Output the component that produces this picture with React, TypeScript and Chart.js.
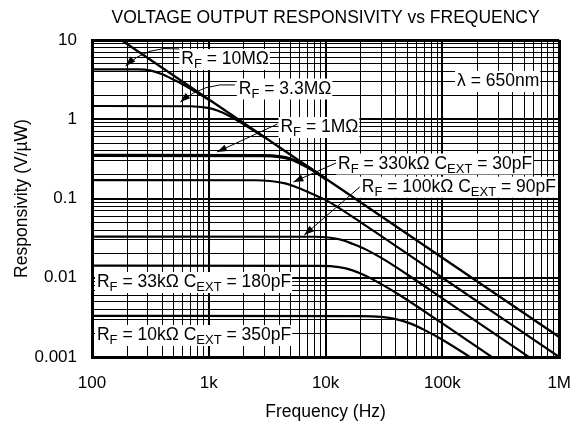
import React, { useEffect, useRef } from 'react';
import { Chart, registerables } from 'chart.js';

Chart.register(...registerables);

const FONT = '"Liberation Sans", Arial, Helvetica, sans-serif';

// ---- axes ----
const xMin = 100;
const xMax = 1000000;
const yMin = 0.001;
const yMax = 10;
const xTickValues = [100, 1000, 10000, 100000, 1000000];
const xTickLabels = ['100', '1k', '10k', '100k', '1M'];
const yTickValues = [0.001, 0.01, 0.1, 1, 10];
const yTickLabels = ['0.001', '0.01', '0.1', '1', '10'];

const titleText = 'VOLTAGE OUTPUT RESPONSIVITY vs FREQUENCY';
const xTitle = 'Frequency (Hz)';
const yTitle = 'Responsivity (V/µW)';

// ---- series (frequency in Hz, responsivity in V/µW) ----
const limitFreq = [178, 1000000];
const limitResp = [10, 0.00179];

const rf10MFreq = [100, 250, 320, 400, 480, 600, 800, 1000];
const rf10MResp = [4.27, 4.25, 4.1, 3.7, 3.25, 2.75, 2.15, 1.76];

const rf3M3Freq = [100, 700, 950, 1200, 1500, 2000, 3000];
const rf3M3Resp = [1.47, 1.46, 1.4, 1.28, 1.1, 0.86, 0.59];

const rf1MFreq = [100, 3000, 4000, 5000, 6000, 7500, 10000];
const rf1MResp = [0.35, 0.348, 0.338, 0.315, 0.28, 0.235, 0.177];

const rf330kFreq = [100, 2500, 3500, 4500, 5500, 7000, 8500, 10000, 20000, 100000, 1000000];
const rf330kResp = [0.171, 0.17, 0.165, 0.155, 0.141, 0.122, 0.107, 0.096, 0.05, 0.01, 0.001];

const rf100kFreq = [100, 8000, 11000, 14000, 17000, 22000, 30000, 50000, 100000, 1000000];
const rf100kResp = [0.033, 0.0329, 0.032, 0.0298, 0.0268, 0.0228, 0.0178, 0.011, 0.0055, 0.00055];

const rf33kFreq = [100, 9000, 13000, 17000, 22000, 30000, 45000, 100000, 1000000];
const rf33kResp = [0.0142, 0.0141, 0.0136, 0.0124, 0.0106, 0.0083, 0.0058, 0.00265, 0.000265];

const rf10kFreq = [100, 20000, 30000, 40000, 55000, 70000, 100000, 1000000];
const rf10kResp = [0.0033, 0.00328, 0.0032, 0.003, 0.0026, 0.0022, 0.00165, 0.000179];

// ---- annotations ----
type Seg = { t: string; sub?: boolean };
const labelTexts: Seg[][] = [
  [{ t: 'R' }, { t: 'F', sub: true }, { t: ' = 10MΩ' }],
  [{ t: 'R' }, { t: 'F', sub: true }, { t: ' = 3.3MΩ' }],
  [{ t: 'R' }, { t: 'F', sub: true }, { t: ' = 1MΩ' }],
  [{ t: 'R' }, { t: 'F', sub: true }, { t: ' = 330kΩ C' }, { t: 'EXT', sub: true }, { t: ' = 30pF' }],
  [{ t: 'R' }, { t: 'F', sub: true }, { t: ' = 100kΩ C' }, { t: 'EXT', sub: true }, { t: ' = 90pF' }],
  [{ t: 'R' }, { t: 'F', sub: true }, { t: ' = 33kΩ C' }, { t: 'EXT', sub: true }, { t: ' = 180pF' }],
  [{ t: 'R' }, { t: 'F', sub: true }, { t: ' = 10kΩ C' }, { t: 'EXT', sub: true }, { t: ' = 350pF' }],
  [{ t: 'λ = 650nm' }],
];
const labelFreq = [581, 1807, 4108, 12770, 20420, 110.3, 110.3, 133500];
const labelResp = [4.98, 2.11, 0.69, 0.239, 0.1219, 0.00764, 0.001639, 2.63];

// arrows: start, optional control (curved), tip
const arrowFromFreq = [559, 1671, 3874, 12280, 19630];
const arrowFromResp = [7.7, 2.71, 0.871, 0.2805, 0.1397];
const arrowCtrlFreq = [299, 911, null, null, null];
const arrowCtrlResp = [8.65, 2.95, null, null, null];
const arrowToFreq = [194, 570, 1175, 5297, 6567];
const arrowToResp = [4.7, 1.65, 0.386, 0.1615, 0.0346];

const series = [
  { f: limitFreq, r: limitResp, w: 2.3 },
  { f: rf10MFreq, r: rf10MResp, w: 2.2 },
  { f: rf3M3Freq, r: rf3M3Resp, w: 2.2 },
  { f: rf1MFreq, r: rf1MResp, w: 3.2 },
  { f: rf330kFreq, r: rf330kResp, w: 2.2 },
  { f: rf100kFreq, r: rf100kResp, w: 2.2 },
  { f: rf33kFreq, r: rf33kResp, w: 2.2 },
  { f: rf10kFreq, r: rf10kResp, w: 2.2 },
];

const isDecade = (v: number) => Math.abs(Math.log10(v) - Math.round(Math.log10(v))) < 1e-6;

const logTicks = (min: number, max: number) => {
  const out: { value: number; major: boolean }[] = [];
  const e0 = Math.floor(Math.log10(min) + 1e-9);
  const e1 = Math.ceil(Math.log10(max) - 1e-9);
  for (let e = e0; e <= e1; e++) {
    for (let k = 1; k <= 9; k++) {
      const v = Number((k * Math.pow(10, e)).toPrecision(10));
      if (v >= min * (1 - 1e-9) && v <= max * (1 + 1e-9)) out.push({ value: v, major: k === 1 });
    }
  }
  return out;
};

const labelFor = (v: number, vals: number[], labs: string[]) => {
  for (let i = 0; i < vals.length; i++) if (Math.abs(v / vals[i] - 1) < 1e-6) return labs[i];
  return '';
};

const gridWidth = (v: number, min: number, max: number) => {
  if (v === undefined) return 1;
  if (Math.abs(v / min - 1) < 1e-6 || Math.abs(v / max - 1) < 1e-6) return 3;
  return isDecade(v) ? 2 : 1;
};

const MAIN_FONT = `17.5px ${FONT}`;
const SUB_FONT = `13px ${FONT}`;
const SUB_DY = 4;

function richWidth(ctx: CanvasRenderingContext2D, segs: Seg[]) {
  let w = 0;
  for (const s of segs) {
    ctx.font = s.sub ? SUB_FONT : MAIN_FONT;
    w += ctx.measureText(s.t).width;
  }
  return w;
}
function drawRich(ctx: CanvasRenderingContext2D, segs: Seg[], x: number, y: number) {
  let cx = x;
  for (const s of segs) {
    ctx.font = s.sub ? SUB_FONT : MAIN_FONT;
    ctx.fillText(s.t, cx, s.sub ? y + SUB_DY : y);
    cx += ctx.measureText(s.t).width;
  }
}

const annotatePlugin = {
  id: 'annotate',
  beforeDatasetsDraw(chart: any) {
    const { ctx, scales } = chart;
    const xs = scales.x;
    const ys = scales.y;
    ctx.save();
    ctx.textAlign = 'left';
    ctx.textBaseline = 'alphabetic';
    for (let i = 0; i < labelTexts.length; i++) {
      const px = xs.getPixelForValue(labelFreq[i]);
      const py = ys.getPixelForValue(labelResp[i]);
      const w = richWidth(ctx, labelTexts[i]);
      ctx.fillStyle = '#fff';
      ctx.fillRect(px - 2, py - 15, w + 3, 21);
      ctx.fillStyle = '#000';
      drawRich(ctx, labelTexts[i], px, py);
    }
    ctx.restore();
  },
  afterDatasetsDraw(chart: any) {
    const { ctx, scales } = chart;
    const xs = scales.x;
    const ys = scales.y;
    ctx.save();
    ctx.strokeStyle = '#000';
    ctx.fillStyle = '#000';
    ctx.lineWidth = 1;
    for (let i = 0; i < arrowFromFreq.length; i++) {
      const x0 = xs.getPixelForValue(arrowFromFreq[i]);
      const y0 = ys.getPixelForValue(arrowFromResp[i]);
      const x1 = xs.getPixelForValue(arrowToFreq[i]);
      const y1 = ys.getPixelForValue(arrowToResp[i]);
      let tx = x1 - x0;
      let ty = y1 - y0;
      ctx.beginPath();
      ctx.moveTo(x0, y0);
      if (arrowCtrlFreq[i] != null) {
        const cx = xs.getPixelForValue(arrowCtrlFreq[i] as number);
        const cy = ys.getPixelForValue(arrowCtrlResp[i] as number);
        ctx.quadraticCurveTo(cx, cy, x1, y1);
        tx = x1 - cx;
        ty = y1 - cy;
      } else {
        ctx.lineTo(x1, y1);
      }
      ctx.stroke();
      const len = Math.hypot(tx, ty) || 1;
      const ux = tx / len;
      const uy = ty / len;
      const hl = 10;
      const hw = 3.5;
      ctx.beginPath();
      ctx.moveTo(x1, y1);
      ctx.lineTo(x1 - ux * hl - uy * hw, y1 - uy * hl + ux * hw);
      ctx.lineTo(x1 - ux * hl + uy * hw, y1 - uy * hl - ux * hw);
      ctx.closePath();
      ctx.fill();
    }
    ctx.restore();
  },
  afterDraw(chart: any) {
    const { ctx, chartArea } = chart;
    ctx.save();
    ctx.fillStyle = '#000';
    ctx.font = MAIN_FONT;
    ctx.textAlign = 'center';
    ctx.textBaseline = 'middle';
    ctx.fillText(titleText, (chartArea.left + chartArea.right) / 2, 18.5);
    ctx.restore();
  },
};

export default function App() {
  const ref = useRef<HTMLCanvasElement | null>(null);
  useEffect(() => {
    if (!ref.current) return;
    const datasets = series.map((s) => ({
      data: s.f.map((f, i) => ({ x: f, y: s.r[i] })),
      borderColor: '#000',
      backgroundColor: '#000',
      borderWidth: s.w,
      pointRadius: 0,
      fill: false,
      cubicInterpolationMode: 'monotone' as const,
    }));
    const tickFont = { family: FONT, size: 17 };
    const chart = new Chart(ref.current, {
      type: 'line',
      data: { datasets },
      plugins: [annotatePlugin],
      options: {
        responsive: false,
        animation: false,
        devicePixelRatio: 1,
        layout: { padding: { top: 40, right: 24, left: 0, bottom: 0 } },
        plugins: {
          legend: { display: false },
          tooltip: { enabled: false },
          title: { display: false },
        },
        scales: {
          x: {
            type: 'logarithmic',
            position: 'bottom',
            min: xMin,
            max: xMax,
            afterBuildTicks: (s: any) => {
              s.ticks = logTicks(xMin, xMax);
            },
            afterFit: (s: any) => {
              s.height = 71;
            },
            grid: {
              color: '#000',
              drawTicks: false,
              lineWidth: (c: any) => gridWidth(c.tick?.value, xMin, xMax),
            },
            border: { display: true, color: '#000', width: 3 },
            ticks: {
              autoSkip: false,
              maxRotation: 0,
              padding: 16,
              color: '#000',
              font: tickFont,
              callback: (v: any) => labelFor(Number(v), xTickValues, xTickLabels),
            },
            title: {
              display: true,
              text: xTitle,
              color: '#000',
              font: { family: FONT, size: 17.5 },
              padding: { top: 0, bottom: 5 },
            },
          },
          y: {
            type: 'logarithmic',
            position: 'left',
            min: yMin,
            max: yMax,
            afterBuildTicks: (s: any) => {
              s.ticks = logTicks(yMin, yMax);
            },
            afterFit: (s: any) => {
              s.width = 92;
            },
            grid: {
              color: '#000',
              drawTicks: false,
              lineWidth: (c: any) => gridWidth(c.tick?.value, yMin, yMax),
            },
            border: { display: true, color: '#000', width: 3 },
            ticks: {
              autoSkip: false,
              padding: 15,
              color: '#000',
              font: tickFont,
              callback: (v: any) => labelFor(Number(v), yTickValues, yTickLabels),
            },
            title: {
              display: true,
              text: yTitle,
              color: '#000',
              font: { family: FONT, size: 17.5 },
              padding: { top: 12, bottom: 0 },
            },
          },
        },
      } as any,
    });
    return () => chart.destroy();
  }, []);
  return (
    <div style={{ position: 'fixed', left: 0, top: 0, width: 587, height: 428, background: '#fff' }}>
      <canvas ref={ref} width={587} height={428} style={{ display: 'block', width: 587, height: 428 }} />
    </div>
  );
}
